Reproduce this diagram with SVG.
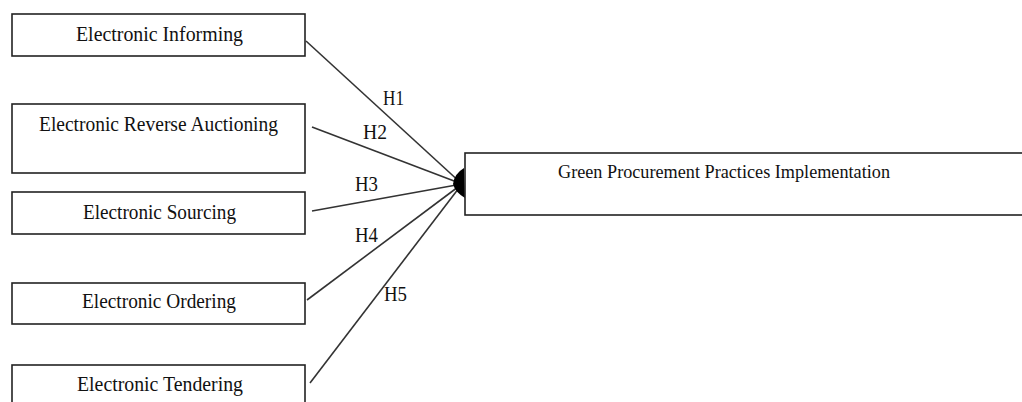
<svg xmlns="http://www.w3.org/2000/svg" width="1022" height="402" viewBox="0 0 1022 402">
<style>
.box{fill:#fff;stroke:#222;stroke-width:1.6}
.t{font-family:"Liberation Serif","Times New Roman",serif;font-size:20px;fill:#111;text-anchor:middle}
.h{font-family:"Liberation Serif","Times New Roman",serif;font-size:22px;fill:#111}
.c{stroke:#333;stroke-width:1.6;fill:none}
</style>
<rect width="1022" height="402" fill="#fff"/>
<g id="connectors">
<line class="c" x1="306" y1="41" x2="462" y2="184"/>
<line class="c" x1="312" y1="127" x2="462" y2="184"/>
<line class="c" x1="312" y1="211" x2="462" y2="184"/>
<line class="c" x1="307" y1="300" x2="462" y2="184"/>
<line class="c" x1="310" y1="383" x2="462" y2="184"/>
<path d="M464,168 L465,198 Q455,192 453,184 Q454,174 464,168 Z" fill="#000"/>
<text class="h" x="383" y="105" textLength="21" lengthAdjust="spacingAndGlyphs">H1</text>
<text class="h" x="363" y="139" textLength="24" lengthAdjust="spacingAndGlyphs">H2</text>
<text class="h" x="355" y="191" textLength="23" lengthAdjust="spacingAndGlyphs">H3</text>
<text class="h" x="355" y="242" textLength="23" lengthAdjust="spacingAndGlyphs">H4</text>
<text class="h" x="384" y="301" textLength="23" lengthAdjust="spacingAndGlyphs">H5</text>
</g>
<g id="node-informing">
<rect class="box" x="12" y="14" width="293" height="42"/>
<text class="t" x="159.5" y="41" textLength="167" lengthAdjust="spacingAndGlyphs">Electronic Informing</text>
</g>
<g id="node-reverse-auctioning">
<rect class="box" x="12" y="104" width="293" height="69"/>
<text class="t" x="158.5" y="131" textLength="239" lengthAdjust="spacingAndGlyphs">Electronic Reverse Auctioning</text>
</g>
<g id="node-sourcing">
<rect class="box" x="12" y="192" width="293" height="42"/>
<text class="t" x="159.5" y="219" textLength="153" lengthAdjust="spacingAndGlyphs">Electronic Sourcing</text>
</g>
<g id="node-ordering">
<rect class="box" x="12" y="283" width="293" height="41"/>
<text class="t" x="159" y="308" textLength="154" lengthAdjust="spacingAndGlyphs">Electronic Ordering</text>
</g>
<g id="node-tendering">
<rect class="box" x="12" y="365" width="293" height="50"/>
<text class="t" x="160" y="391" textLength="166" lengthAdjust="spacingAndGlyphs">Electronic Tendering</text>
</g>
<g id="node-green-procurement">
<rect class="box" x="465" y="153" width="580" height="62"/>
<text class="t" x="724" y="178" font-size="18" textLength="332" lengthAdjust="spacingAndGlyphs" style="font-size:18px">Green Procurement Practices Implementation</text>
</g>
</svg>
